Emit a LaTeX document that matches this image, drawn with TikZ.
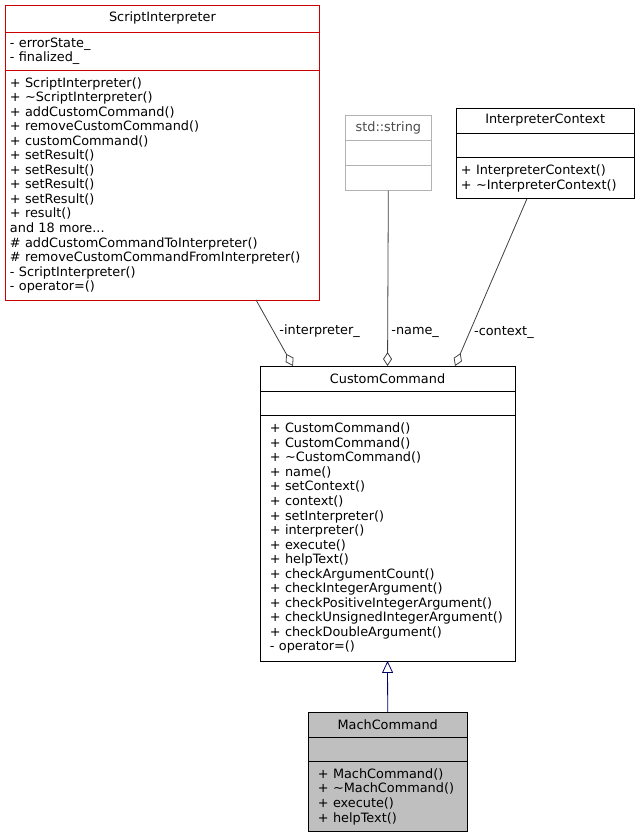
\documentclass[tikz,border=0pt]{standalone}
\usepackage{fontspec}
\setmainfont{DejaVu Sans}
\usetikzlibrary{arrows.meta}

\begin{document}
\begin{tikzpicture}[x=1bp,y=1bp,
    cls/.style={draw=black,rectangle,anchor=north west,inner sep=0pt,outer sep=0pt,line width=0.8pt,font=\fontsize{12.9}{14.6}\selectfont},
    title/.style={cls,align=center},
    part/.style={cls,align=left,inner xsep=5pt,inner ysep=1pt},
    agg/.style={draw=black!75,line width=0.8pt,-{Diamond[open,length=14pt,width=9pt]}},
    inh/.style={draw=blue!40!black,line width=0.8pt,-{Triangle[open,length=12pt,width=11pt]}},
    lbl/.style={font=\fontsize{12.9}{14}\selectfont,anchor=west}]
  \useasboundingbox (0,0) rectangle (641,-839);
  \fill[white] (0,0) rectangle (641,-839);
  % ScriptInterpreter
  \node[title,draw=red!80!black,minimum width=316,minimum height=27] (si-t) at (5,-5) {ScriptInterpreter};
  \node[part,draw=red!80!black,text width=306,minimum height=39] (si-a) at (si-t.south west) {- errorState\_\\- finalized\_};
  \node[part,draw=red!80!black,text width=306,minimum height=230] (si-m) at (si-a.south west)
    {+ ScriptInterpreter()\\+ \textasciitilde ScriptInterpreter()\\+ addCustomCommand()\\+ removeCustomCommand()\\+ customCommand()\\+ setResult()\\+ setResult()\\+ setResult()\\+ setResult()\\+ result()\\and 18 more...\\\# addCustomCommandToInterpreter()\\\# removeCustomCommandFromInterpreter()\\- ScriptInterpreter()\\- operator=()};
  % std::string
  \node[title,draw=black!30,text=black!70,minimum width=87,minimum height=25] (st-t) at (345,-115) {std::string};
  \node[cls,draw=black!30,minimum width=87,minimum height=26] (st-a) at (st-t.south west) {};
  \node[cls,draw=black!30,minimum width=87,minimum height=25] (st-m) at (st-a.south west) {};
  % InterpreterContext
  \node[title,minimum width=179,minimum height=25] (ic-t) at (456,-108) {InterpreterContext};
  \node[cls,minimum width=179,minimum height=25] (ic-a) at (ic-t.south west) {};
  \node[part,text width=169,minimum height=41] (ic-m) at (ic-a.south west)
    {+ InterpreterContext()\\+ \textasciitilde InterpreterContext()};
  % CustomCommand
  \node[title,minimum width=256,minimum height=25] (cc-t) at (260,-366) {CustomCommand};
  \node[cls,minimum width=256,minimum height=25] (cc-a) at (cc-t.south west) {};
  \node[part,inner xsep=10pt,text width=236,minimum height=246] (cc-m) at (cc-a.south west)
    {+ CustomCommand()\\+ CustomCommand()\\+ \textasciitilde CustomCommand()\\+ name()\\+ setContext()\\+ context()\\+ setInterpreter()\\+ interpreter()\\+ execute()\\+ helpText()\\+ checkArgumentCount()\\+ checkIntegerArgument()\\+ checkPositiveIntegerArgument()\\+ checkUnsignedIntegerArgument()\\+ checkDoubleArgument()\\- operator=()};
  % MachCommand
  \node[title,fill=black!25,minimum width=160,minimum height=25] (mc-t) at (308,-712) {MachCommand};
  \node[cls,fill=black!25,minimum width=160,minimum height=25] (mc-a) at (mc-t.south west) {};
  \node[part,inner xsep=10pt,fill=black!25,text width=140,minimum height=70] (mc-m) at (mc-a.south west)
    {+ MachCommand()\\+ \textasciitilde MachCommand()\\+ execute()\\+ helpText()};
  % connectors
  \path (si-m.south west) ++(251,0) coordinate (si-out);
  \path (cc-t.north west) ++(33,0) coordinate (cc-in1);
  \path (ic-m.south west) ++(71,0) coordinate (ic-out);
  \path (cc-t.north east) ++(-60,0) coordinate (cc-in3);
  \draw[agg] (si-out) -- node[lbl,pos=0.48,xshift=2pt] {-interpreter\_} (cc-in1);
  \draw[agg] (st-m.south) -- node[lbl,pos=0.81] {-name\_} (cc-t.north);
  \draw[agg] (ic-out) -- node[lbl,pos=0.8,xshift=1pt] {-context\_} (cc-in3);
  \draw[inh] (mc-t.north) -- (cc-m.south);
\end{tikzpicture}
\end{document}
